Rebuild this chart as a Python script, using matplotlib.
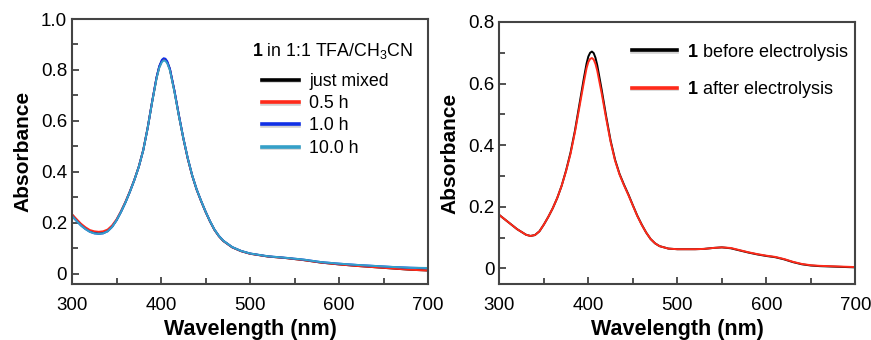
import matplotlib
matplotlib.use("Agg")
import matplotlib.pyplot as plt
import matplotlib.patheffects as pe
from matplotlib.ticker import MultipleLocator, FuncFormatter

plt.rcParams['font.family'] = ['Liberation Sans', 'DejaVu Sans']
plt.rcParams['mathtext.fontset'] = 'custom'
plt.rcParams['mathtext.rm'] = 'Liberation Sans'
plt.rcParams['mathtext.bf'] = 'Liberation Sans:bold'

# ---- left panel: 1 in 1:1 TFA/CH3CN over time ----
wl_left = [300, 305, 310, 315, 320, 325, 330, 335, 340, 345,
           350, 355, 360, 365, 370, 375, 380, 385, 390, 395,
           398, 401, 403, 405, 407, 410, 415, 420, 425, 430,
           435, 440, 445, 450, 455, 460, 465, 470, 480, 490,
           500, 520, 540, 560, 580, 600, 620, 640, 660, 680,
           700]

just_mixed = [0.232, 0.212, 0.193, 0.178, 0.167, 0.161, 0.158, 0.160, 0.168, 0.185,
              0.210, 0.243, 0.280, 0.322, 0.368, 0.420, 0.485, 0.573, 0.675, 0.770,
              0.812, 0.836, 0.842, 0.840, 0.830, 0.802, 0.718, 0.622, 0.532, 0.452,
              0.385, 0.330, 0.285, 0.243, 0.205, 0.172, 0.147, 0.128, 0.103, 0.088,
              0.078, 0.067, 0.061, 0.053, 0.043, 0.036, 0.030, 0.025, 0.020, 0.015,
              0.012]
half_hour = [0.232, 0.214, 0.196, 0.182, 0.171, 0.166, 0.164, 0.166, 0.173, 0.189,
             0.213, 0.245, 0.282, 0.323, 0.368, 0.420, 0.485, 0.573, 0.675, 0.770,
             0.812, 0.836, 0.842, 0.840, 0.830, 0.802, 0.718, 0.622, 0.532, 0.452,
             0.385, 0.330, 0.285, 0.243, 0.205, 0.172, 0.147, 0.128, 0.103, 0.088,
             0.078, 0.067, 0.061, 0.053, 0.043, 0.036, 0.030, 0.025, 0.020, 0.015,
             0.012]
one_hour = [0.226, 0.207, 0.189, 0.175, 0.164, 0.158, 0.156, 0.158, 0.166, 0.183,
            0.209, 0.242, 0.279, 0.321, 0.367, 0.419, 0.484, 0.572, 0.675, 0.772,
            0.815, 0.840, 0.846, 0.844, 0.834, 0.805, 0.720, 0.624, 0.534, 0.454,
            0.386, 0.331, 0.286, 0.244, 0.206, 0.173, 0.148, 0.129, 0.104, 0.089,
            0.079, 0.068, 0.062, 0.055, 0.045, 0.039, 0.034, 0.030, 0.026, 0.023,
            0.021]
ten_hours = [0.226, 0.207, 0.189, 0.175, 0.164, 0.158, 0.156, 0.158, 0.166, 0.183,
             0.209, 0.242, 0.279, 0.321, 0.367, 0.419, 0.484, 0.572, 0.673, 0.767,
             0.808, 0.831, 0.837, 0.835, 0.826, 0.798, 0.715, 0.620, 0.533, 0.454,
             0.386, 0.331, 0.286, 0.244, 0.206, 0.173, 0.148, 0.129, 0.104, 0.089,
             0.079, 0.068, 0.062, 0.055, 0.045, 0.039, 0.034, 0.030, 0.026, 0.023,
             0.022]

left_title = r'$\mathbf{1}$ in 1:1 TFA/CH$_3$CN'
left_labels = ['just mixed', '0.5 h', '1.0 h', '10.0 h']
left_colors = ['black', '#ff2a1a', '#1030e6', '#35a0c8']

# ---- right panel: before / after electrolysis ----
wl_right = [300, 310, 320, 330, 335, 340, 345, 350, 355, 360,
            365, 370, 375, 380, 385, 390, 395, 398, 400, 402,
            404, 406, 408, 410, 415, 420, 425, 430, 435, 440,
            445, 450, 455, 460, 465, 470, 475, 480, 490, 500,
            510, 520, 530, 540, 550, 560, 570, 580, 590, 600,
            610, 620, 630, 640, 650, 660, 670, 680, 690, 700]

before = [0.173, 0.150, 0.127, 0.109, 0.105, 0.108, 0.120, 0.142, 0.167, 0.195,
          0.228, 0.268, 0.318, 0.376, 0.448, 0.533, 0.618, 0.665, 0.688, 0.700,
          0.704, 0.699, 0.684, 0.660, 0.580, 0.494, 0.415, 0.353, 0.307, 0.272,
          0.240, 0.205, 0.171, 0.142, 0.116, 0.095, 0.081, 0.072, 0.064, 0.062,
          0.062, 0.062, 0.063, 0.066, 0.068, 0.065, 0.058, 0.051, 0.045, 0.040,
          0.036, 0.029, 0.020, 0.013, 0.009, 0.007, 0.006, 0.005, 0.004, 0.003]
after = [0.173, 0.150, 0.127, 0.109, 0.105, 0.108, 0.120, 0.142, 0.167, 0.195,
         0.228, 0.268, 0.316, 0.372, 0.443, 0.524, 0.605, 0.650, 0.670, 0.680,
         0.683, 0.678, 0.664, 0.642, 0.568, 0.487, 0.411, 0.350, 0.305, 0.270,
         0.238, 0.204, 0.170, 0.141, 0.116, 0.095, 0.081, 0.072, 0.064, 0.062,
         0.062, 0.062, 0.063, 0.066, 0.068, 0.066, 0.059, 0.052, 0.046, 0.041,
         0.037, 0.030, 0.021, 0.014, 0.010, 0.008, 0.007, 0.006, 0.005, 0.004]

right_labels = [r'$\mathbf{1}$ before electrolysis', r'$\mathbf{1}$ after electrolysis']
right_colors = ['black', '#ff2a1a']

fig = plt.figure(figsize=(8.71, 3.4), dpi=100)
ax1 = fig.add_axes([0.0827, 0.1647, 0.4087, 0.7793])
ax2 = fig.add_axes([0.5733, 0.1647, 0.4087, 0.7706])

shadow = [pe.SimpleLineShadow(offset=(0, -1.2), shadow_color='gray', alpha=0.35), pe.Normal()]


def style_axis(ax, ymax, ymin):
    ax.set_xlim(300, 700)
    ax.set_ylim(ymin, ymax)
    ax.xaxis.set_major_locator(MultipleLocator(100))
    ax.xaxis.set_minor_locator(MultipleLocator(50))
    ax.yaxis.set_major_locator(MultipleLocator(0.2))
    ax.yaxis.set_minor_locator(MultipleLocator(0.1))
    ax.yaxis.set_major_formatter(FuncFormatter(lambda v, p: '0' if abs(v) < 1e-9 else '%.1f' % v))
    ax.tick_params(which='both', direction='in', top=False, right=False,
                   labelsize=13.5, color='#333333')
    ax.tick_params(axis='x', which='both', pad=9)
    ax.tick_params(axis='y', which='both', pad=3.6)
    ax.tick_params(which='major', length=5, width=1.2)
    ax.tick_params(which='minor', length=4, width=1.2)
    for s in ax.spines.values():
        s.set_color('#444444')
        s.set_linewidth(1.5)
    ax.set_xlabel('Wavelength (nm)', fontsize=15.5, fontweight='bold', labelpad=4)
    ax.set_ylabel('Absorbance', fontsize=15, fontweight='bold', labelpad=6)


series_left = [just_mixed, half_hour, one_hour, ten_hours]
for vals, lab, col in zip(series_left, left_labels, left_colors):
    ax1.plot(wl_left, vals, color=col, lw=1.4, label=lab)
style_axis(ax1, 1.0, -0.041)
ax1.text(0.958, 0.88, left_title, transform=ax1.transAxes, ha='right', va='center',
         fontsize=12.8)
leg = ax1.legend(loc='upper left', bbox_to_anchor=(0.534, 0.797), frameon=False,
                 fontsize=12.8, handlelength=2.1, handletextpad=0.56,
                 labelspacing=0.3, borderaxespad=0, borderpad=0)
for ln in leg.get_lines():
    ln.set_linewidth(2.6)
    ln.set_path_effects(shadow)

for vals, lab, col in zip([before, after], right_labels, right_colors):
    ax2.plot(wl_right, vals, color=col, lw=1.4, label=lab)
style_axis(ax2, 0.8, -0.051)
leg2 = ax2.legend(loc='upper left', bbox_to_anchor=(0.372, 0.925), frameon=False,
                  fontsize=13, handlelength=2.5, handletextpad=0.55,
                  labelspacing=0.9, borderaxespad=0, borderpad=0)
for ln in leg2.get_lines():
    ln.set_linewidth(2.6)
    ln.set_path_effects(shadow)

fig.savefig('out.png', dpi=100)
